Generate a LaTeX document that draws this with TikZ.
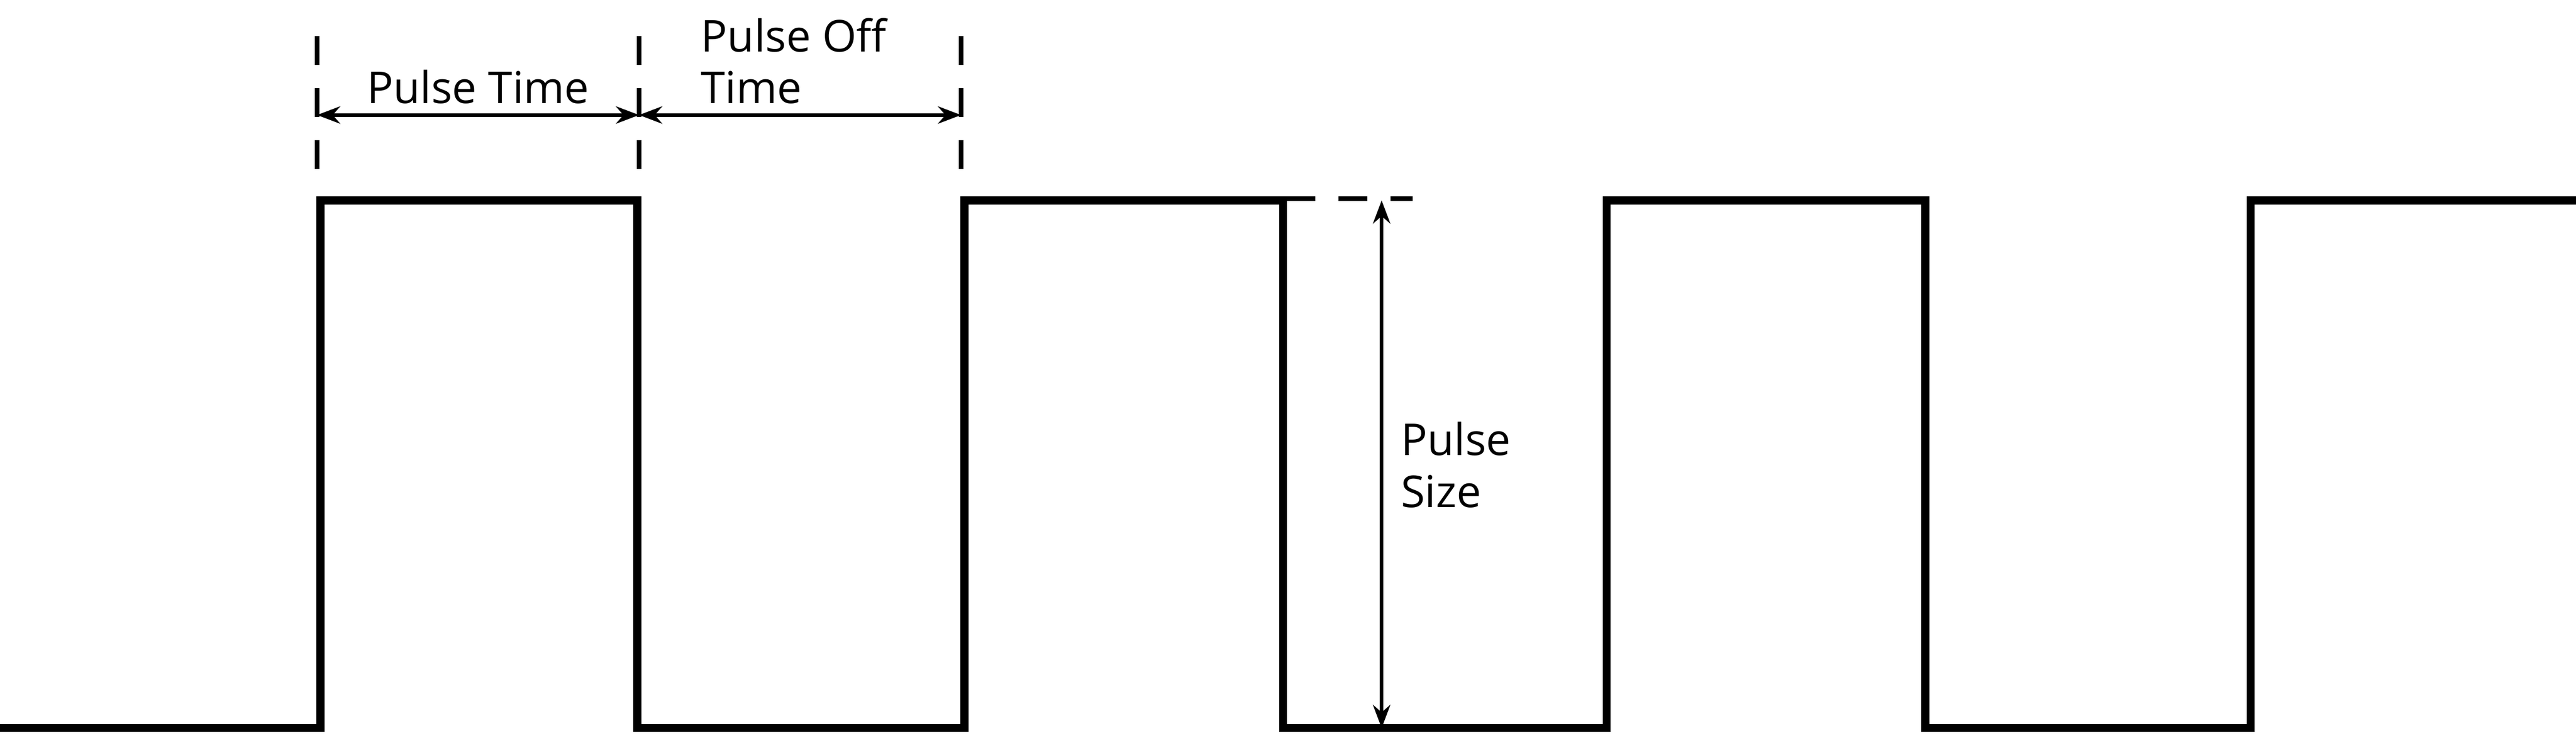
\documentclass[tikz,border=0pt]{standalone}
\usepackage{fontspec}
\setmainfont{Open Sans}
\usetikzlibrary{arrows.meta}

\tikzset{
  wave/.style={line width=1.4pt, line join=miter},
  marker/.style={line width=0.8pt, dash pattern=on 5pt off 4pt},
  span/.style={line width=0.6pt, {Stealth[length=4pt]}-{Stealth[length=4pt]}},
  lbl/.style={font=\fontsize{7.6}{9}\selectfont, inner sep=0pt, align=left}
}

\begin{document}
\begin{tikzpicture}[x=0.01cm, y=-0.01cm]
\useasboundingbox (0,0) rectangle (1568,449);

% square wave
\draw[wave] (0,443) -- (195,443) -- (195,122) -- (388,122) -- (388,443)
  -- (587,443) -- (587,122) -- (781,122) -- (781,443)
  -- (978,443) -- (978,122) -- (1172,122) -- (1172,443)
  -- (1370,443) -- (1370,122) -- (1568,122);

% timing markers
\foreach \name/\x in {ta/193, tb/389, tc/585} {
  \coordinate (\name top) at (\x,22);
  \coordinate (\name) at (\x,70);
  \draw[marker] (\name top) -- (\x,112);
}
\draw[span] (ta) -- (tb);
\draw[span] (tb) -- (tc);
\node[lbl, anchor=south] (ontime) at (291,64) {Pulse Time};
\node[lbl, anchor=south west] (offtime) at (426,64) {Pulse Off\\Time};

% pulse size
\coordinate (ptop) at (841,122);
\coordinate (pbot) at (841,443);
\draw[marker] (783,121) -- (860,121);
\draw[span] (ptop) -- (pbot);
\node[lbl, anchor=west] (size) at (852,283) {Pulse\\Size};
\end{tikzpicture}
\end{document}
